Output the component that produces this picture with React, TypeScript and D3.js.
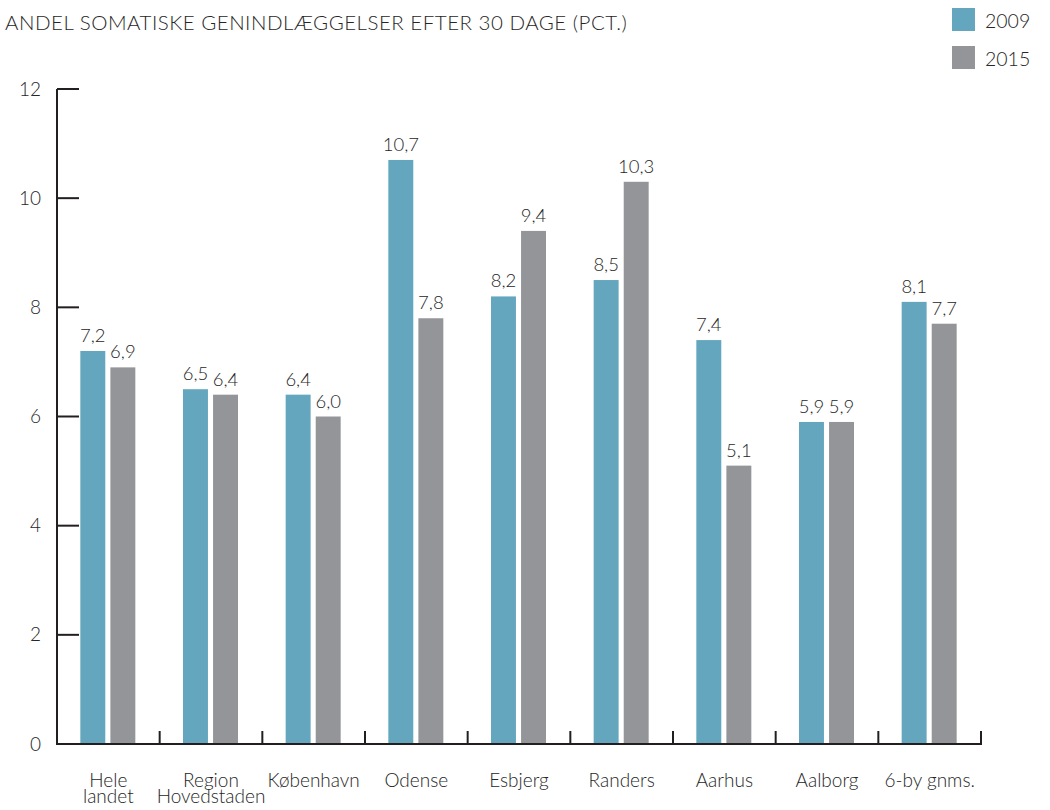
import React from "react";
import * as d3 from "d3";

const categories = ["Hele landet", "Region Hovedstaden", "København", "Odense", "Esbjerg", "Randers", "Aarhus", "Aalborg", "6-by gnms."];
const categoryLines = [["Hele", "landet"], ["Region", "Hovedstaden"], ["København"], ["Odense"], ["Esbjerg"], ["Randers"], ["Aarhus"], ["Aalborg"], ["6-by gnms."]];
const series = ["2009", "2015"];
const values2009 = [7.2, 6.5, 6.4, 10.7, 8.2, 8.5, 7.4, 5.9, 8.1];
const values2015 = [6.9, 6.4, 6.0, 7.8, 9.4, 10.3, 5.1, 5.9, 7.7];
const yTicks = [0, 2, 4, 6, 8, 10, 12];
const colors = ["#63a6be", "#939598"];
const title = "ANDEL SOMATISKE GENINDLÆGGELSER EFTER 30 DAGE (PCT.)";

const FONT = "Lato, 'Open Sans', sans-serif";
const TEXT = "#262626";
const AXIS = "#231f20";

export default function App() {
  const left = 57, right = 981, top = 89, bottom = 744;
  const x = d3.scaleBand<string>().domain(categories).range([left, right]).padding(0);
  const sub = d3.scaleBand<string>().domain(series).range([0, 55]).paddingInner(0.17);
  const y = d3.scaleLinear().domain([0, 12]).range([bottom, top]);
  const data = [values2009, values2015];
  const fmt = (v: number) => v.toFixed(1).replace(".", ",");

  return (
    <svg width={1050} height={810} style={{ position: "absolute", left: 0, top: 0, background: "#fff" }} fontFamily={FONT}>
      <text x={5} y={30} fontSize={20.5} letterSpacing={0.5} fill={TEXT} fontWeight={300}>{title}</text>
      {series.map((s, i) => (
        <g key={s}>
          <rect x={952} y={8 + i * 38} width={23} height={23} fill={colors[i]} />
          <text x={985} y={28 + i * 38} fontSize={19.5} fill={TEXT} fontWeight={300}>{s}</text>
        </g>
      ))}
      {yTicks.map(t => (
        <g key={t}>
          <line x1={left} x2={left + 22} y1={y(t)} y2={y(t)} stroke={AXIS} strokeWidth={2} />
          <text x={41} y={y(t)} dy="0.35em" textAnchor="end" fontSize={19} fill={TEXT} fontWeight={300}>{t}</text>
        </g>
      ))}
      {categories.map((c, ci) => {
        const bx = (x(c) as number) + x.bandwidth() / 2 - 28;
        const cx = (x(c) as number) + x.bandwidth() / 2;
        return (
          <g key={c}>
            {series.map((s, si) => {
              const v = data[si][ci];
              const rx = bx + (sub(s) as number);
              return (
                <g key={s}>
                  <rect x={rx} y={y(v)} width={sub.bandwidth()} height={bottom - y(v)} fill={colors[si]} />
                  <text x={rx + sub.bandwidth() / 2} y={y(v) - 9} textAnchor="middle" fontSize={18.5} fill={TEXT} fontWeight={300}>{fmt(v)}</text>
                </g>
              );
            })}
            <line x1={(x(c) as number) + x.bandwidth()} x2={(x(c) as number) + x.bandwidth()} y1={bottom} y2={bottom - 13} stroke={AXIS} strokeWidth={2} />
            <text x={cx} y={787} textAnchor="middle" fontSize={19} fill={TEXT} fontWeight={300}>
              {categoryLines[ci].map((ln, li) => (
                <tspan key={li} x={cx} y={787 + li * 16}>{ln}</tspan>
              ))}
            </text>
          </g>
        );
      })}
      <line x1={left} x2={left} y1={top} y2={bottom + 1} stroke={AXIS} strokeWidth={2} />
      <line x1={left - 1} x2={right + 1} y1={bottom} y2={bottom} stroke={AXIS} strokeWidth={2} />
    </svg>
  );
}
